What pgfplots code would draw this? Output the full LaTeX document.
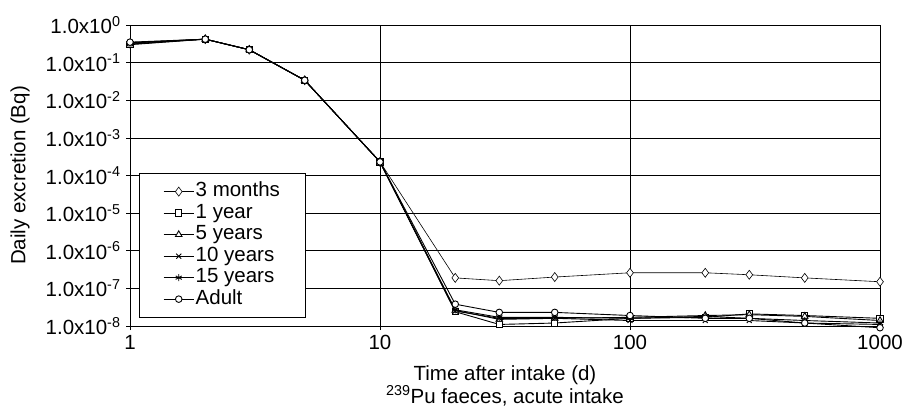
\documentclass[border=0pt]{standalone}
\usepackage{fontspec}
\setmainfont{Liberation Sans}
\usepackage{pgfplots}
\pgfplotsset{compat=1.18}

\begin{document}
\begin{tikzpicture}
\path[use as bounding box] (-130bp,-81bp) rectangle (776bp,326bp);
\begin{axis}[
    at={(0,0)}, anchor=south west,
    scale only axis,
    width=750bp, height=301bp,
    xmode=log, ymode=log,
    xmin=1, xmax=1000,
    ymin=1e-8, ymax=1,
    xtick={1,10,100,1000},
    xticklabels={1,10,100,1000},
    ytick={1e-8,1e-7,1e-6,1e-5,1e-4,1e-3,1e-2,1e-1,1},
    yticklabels={1.0x10\textsuperscript{-8},1.0x10\textsuperscript{-7},1.0x10\textsuperscript{-6},
                 1.0x10\textsuperscript{-5},1.0x10\textsuperscript{-4},1.0x10\textsuperscript{-3},
                 1.0x10\textsuperscript{-2},1.0x10\textsuperscript{-1},1.0x10\textsuperscript{0}},
    xminorticks=false, yminorticks=false,
    xtick pos=bottom, ytick pos=left,
    tick align=outside,
    major tick length=4bp,
    tick style={black, line width=0.6pt},
    grid=major,
    major grid style={black, line width=0.7pt},
    axis line style={black, line width=0.7pt},
    font=\fontsize{20.5bp}{24bp}\selectfont,
    yticklabel style={xshift=-2bp},
    xticklabel style={yshift=-2bp},
    xlabel={Time after intake (d)\\\textsuperscript{239}Pu faeces, acute intake},
    xlabel style={align=center, at={(axis description cs:0.5,0)}, anchor=north, yshift=-36bp,
        font=\fontsize{20.5bp}{20bp}\selectfont},
    ylabel={Daily excretion (Bq)},
    ylabel style={at={(axis description cs:-0.1467,0.5)}, anchor=center},
    clip=false,
    legend cell align=left,
    legend style={at={(rel axis cs:0.012,0.508)}, anchor=north west,
        draw=black, line width=0.6pt, inner xsep=24bp, inner ysep=7.5bp,
        nodes={font=\fontsize{20.5bp}{24bp}\selectfont,
               inner sep=1.5bp, text height=14.5bp, text depth=4bp}},
    legend image code/.code={\draw[mark repeat=2,mark phase=2] plot coordinates {(0bp,0bp)(15bp,0bp)(30bp,0bp)};},
    every axis plot/.append style={black, mark options={solid, fill=white}},
]
\addplot[line width=0.6pt, mark=diamond*, mark size=4.5bp] coordinates {
    (1,0.32) (2,0.42) (3,0.22) (5,0.034) (10,2.3e-4) (20,1.9e-7) (30,1.6e-7) (50,2.0e-7)
    (100,2.6e-7) (200,2.6e-7) (300,2.3e-7) (500,1.9e-7) (1000,1.5e-7)
};
\addlegendentry{3 months}
\addplot[line width=0.9pt, mark=square*, mark size=3.2bp] coordinates {
    (1,0.30) (2,0.42) (3,0.22) (5,0.034) (10,2.3e-4) (20,2.4e-8) (30,1.1e-8) (50,1.2e-8)
    (100,1.6e-8) (200,1.7e-8) (300,2.1e-8) (500,1.9e-8) (1000,1.6e-8)
};
\addlegendentry{1 year}
\addplot[line width=0.9pt, mark=triangle*, mark size=3.8bp] coordinates {
    (1,0.31) (2,0.42) (3,0.22) (5,0.034) (10,2.3e-4) (20,2.6e-8) (30,1.5e-8) (50,1.6e-8)
    (100,1.7e-8) (200,1.9e-8) (300,2.0e-8) (500,1.8e-8) (1000,1.4e-8)
};
\addlegendentry{5 years}
\addplot[line width=0.9pt, mark=x, mark size=3.5bp] coordinates {
    (1,0.33) (2,0.42) (3,0.22) (5,0.034) (10,2.3e-4) (20,2.5e-8) (30,1.6e-8) (50,1.6e-8)
    (100,1.4e-8) (200,1.4e-8) (300,1.4e-8) (500,1.2e-8) (1000,1.1e-8)
};
\addlegendentry{10 years}
\addplot[line width=0.9pt, mark=asterisk, mark size=3.5bp] coordinates {
    (1,0.34) (2,0.42) (3,0.22) (5,0.034) (10,2.3e-4) (20,2.7e-8) (30,1.7e-8) (50,1.7e-8)
    (100,1.6e-8) (200,1.8e-8) (300,1.6e-8) (500,1.4e-8) (1000,1.2e-8)
};
\addlegendentry{15 years}
\addplot[line width=0.9pt, mark=*, mark size=3.3bp] coordinates {
    (1,0.35) (2,0.42) (3,0.22) (5,0.034) (10,2.3e-4) (20,3.8e-8) (30,2.3e-8) (50,2.3e-8)
    (100,1.9e-8) (200,1.6e-8) (300,1.6e-8) (500,1.2e-8) (1000,0.9e-8)
};
\addlegendentry{Adult}
\end{axis}
\end{tikzpicture}
\end{document}
